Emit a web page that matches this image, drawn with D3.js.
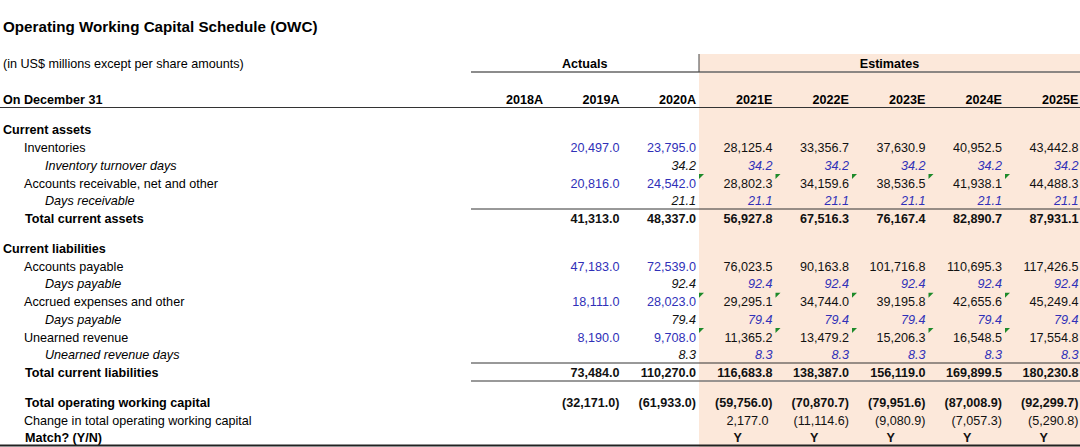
<!DOCTYPE html>
<html>
<head>
<meta charset="utf-8">
<script src="https://cdn.jsdelivr.net/npm/d3@7"></script>
<style>
  body { margin: 0; background: #fff; }
  svg text { font-family: "Liberation Sans", Arial, sans-serif; font-size: 12.6px; }
</style>
</head>
<body>
<svg id="chart" width="1080" height="447"></svg>
<script>
// column headers
const years = ["2018A", "2019A", "2020A", "2021E", "2022E", "2023E", "2024E", "2025E"];
const actualYears = ["2018A", "2019A", "2020A"];
const estimateYears = ["2021E", "2022E", "2023E", "2024E", "2025E"];

// series values (null = empty cell)
const inventories = [null, 20497.0, 23795.0, 28125.4, 33356.7, 37630.9, 40952.5, 43442.8];
const inventoryDays = [null, null, 34.2, 34.2, 34.2, 34.2, 34.2, 34.2];
const receivables = [null, 20816.0, 24542.0, 28802.3, 34159.6, 38536.5, 41938.1, 44488.3];
const daysReceivable = [null, null, 21.1, 21.1, 21.1, 21.1, 21.1, 21.1];
const totalCurrentAssets = [null, 41313.0, 48337.0, 56927.8, 67516.3, 76167.4, 82890.7, 87931.1];
const payables = [null, 47183.0, 72539.0, 76023.5, 90163.8, 101716.8, 110695.3, 117426.5];
const daysPayable = [null, null, 92.4, 92.4, 92.4, 92.4, 92.4, 92.4];
const accrued = [null, 18111.0, 28023.0, 29295.1, 34744.0, 39195.8, 42655.6, 45249.4];
const accruedDays = [null, null, 79.4, 79.4, 79.4, 79.4, 79.4, 79.4];
const unearned = [null, 8190.0, 9708.0, 11365.2, 13479.2, 15206.3, 16548.5, 17554.8];
const unearnedDays = [null, null, 8.3, 8.3, 8.3, 8.3, 8.3, 8.3];
const totalCurrentLiabilities = [null, 73484.0, 110270.0, 116683.8, 138387.0, 156119.0, 169899.5, 180230.8];
const totalOwc = [null, -32171.0, -61933.0, -59756.0, -70870.7, -79951.6, -87008.9, -92299.7];
const changeOwc = [null, null, null, 2177.0, -11114.6, -9080.9, -7057.3, -5290.8];
const matchFlags = [null, null, null, "Y", "Y", "Y", "Y", "Y"];

// table rows built from the arrays above
const rows = [
  { label: "Current assets", kind: "section" },
  { label: "Inventories", kind: "item", values: inventories },
  { label: "Inventory turnover days", kind: "ratio", values: inventoryDays },
  { label: "Accounts receivable, net and other", kind: "item", values: receivables, flag: true },
  { label: "Days receivable", kind: "ratio", values: daysReceivable },
  { label: "Total current assets", kind: "total", values: totalCurrentAssets, lineAbove: true },
  { kind: "spacer" },
  { label: "Current liabilities", kind: "section" },
  { label: "Accounts payable", kind: "item", values: payables },
  { label: "Days payable", kind: "ratio", values: daysPayable },
  { label: "Accrued expenses and other", kind: "item", values: accrued, flag: true },
  { label: "Days payable", kind: "ratio", values: accruedDays },
  { label: "Unearned revenue", kind: "item", values: unearned, flag: true },
  { label: "Unearned revenue days", kind: "ratio", values: unearnedDays },
  { label: "Total current liabilities", kind: "total", values: totalCurrentLiabilities, lineAbove: true, lineBelow: true },
  { kind: "spacer" },
  { label: "Total operating working capital", kind: "total", values: totalOwc, paren: true },
  { label: "Change in total operating working capital", kind: "change", values: changeOwc, paren: true },
  { label: "Match? (Y/N)", kind: "match", values: matchFlags }
];

const svg = d3.select("#chart");
const width = 1080, height = 447;
const blue = "#3030b8";

const x = d3.scaleBand().domain(years).range([468, 1080]).padding(0);
const fmt = d3.format(",.1f");
const fmtNum = v => v < 0 ? "(" + fmt(-v) + ")" : fmt(v);

// y position of each row
const rowStep = 17.7, spacerStep = 12.4;
let cy = 130;
rows.forEach(r => {
  r.y = cy;
  cy += r.kind === "spacer" ? spacerStep : rowStep;
});

// estimates shading
const estX = x("2021E") + 1.5;
svg.append("rect")
  .attr("x", estX).attr("y", 54)
  .attr("width", width - estX).attr("height", height - 54)
  .attr("fill", "#fce8da");

// title
svg.append("text")
  .attr("x", 3).attr("y", 32)
  .style("font-size", "15.2px").style("font-weight", "bold")
  .text("Operating Working Capital Schedule (OWC)");

svg.append("text")
  .attr("x", 3).attr("y", 64).attr("dy", "0.35em")
  .text("(in US$ millions except per share amounts)");

// group headers
svg.append("text")
  .attr("x", (x(actualYears[0]) + x("2021E") + 4) / 2).attr("y", 64).attr("dy", "0.35em")
  .attr("text-anchor", "middle").style("font-weight", "bold")
  .text("Actuals");
svg.append("text")
  .attr("x", (estX + width) / 2).attr("y", 64).attr("dy", "0.35em")
  .attr("text-anchor", "middle").style("font-weight", "bold")
  .text("Estimates");

svg.append("line")
  .attr("x1", 471).attr("x2", width).attr("y1", 72).attr("y2", 72)
  .attr("stroke", "#666").attr("stroke-width", 1.5);
svg.append("line")
  .attr("x1", estX).attr("x2", estX).attr("y1", 54).attr("y2", 72)
  .attr("stroke", "#444").attr("stroke-width", 1);

// year header row
svg.append("text")
  .attr("x", 3).attr("y", 100).attr("dy", "0.35em")
  .style("font-weight", "bold")
  .text("On December 31");
svg.selectAll(".year")
  .data(years)
  .join("text")
  .attr("class", "year")
  .attr("x", d => x(d) + x.bandwidth() - 1.5)
  .attr("y", 100).attr("dy", "0.35em")
  .attr("text-anchor", "end").style("font-weight", "bold")
  .text(d => d);
svg.append("line")
  .attr("x1", 0).attr("x2", width).attr("y1", 107.5).attr("y2", 107.5)
  .attr("stroke", "#333").attr("stroke-width", 1);

// row labels
const indent = { section: 3, item: 24, ratio: 45, total: 25, change: 24, match: 25 };
const labelRows = rows.filter(r => r.kind !== "spacer");
svg.selectAll(".label")
  .data(labelRows)
  .join("text")
  .attr("class", "label")
  .attr("x", d => indent[d.kind])
  .attr("y", d => d.y).attr("dy", "0.35em")
  .style("font-weight", d => ["section", "total", "match"].includes(d.kind) ? "bold" : "normal")
  .style("font-style", d => d.kind === "ratio" ? "italic" : "normal")
  .text(d => d.label);

// cell values
const cells = [];
labelRows.filter(r => r.values).forEach(r => {
  r.values.forEach((v, i) => {
    if (v !== null) cells.push({ row: r, year: years[i], i, v });
  });
});

function cellColor(c) {
  const est = c.i >= 3;
  if (c.row.kind === "item") return est ? "#111" : blue;
  if (c.row.kind === "ratio") return est ? blue : "#111";
  return "#111";
}

svg.selectAll(".cell")
  .data(cells)
  .join("text")
  .attr("class", "cell")
  .attr("x", c => {
    if (c.row.kind === "match") return x(c.year) + x.bandwidth() / 2 + 2;
    const right = x(c.year) + x.bandwidth() - 1.5;
    return c.row.paren && c.v >= 0 ? right - 4 : right;
  })
  .attr("y", c => c.row.y).attr("dy", "0.35em")
  .attr("text-anchor", c => c.row.kind === "match" ? "middle" : "end")
  .attr("fill", cellColor)
  .style("font-weight", c => ["total", "match"].includes(c.row.kind) ? "bold" : "normal")
  .style("font-style", c => c.row.kind === "ratio" ? "italic" : "normal")
  .text(c => typeof c.v === "number" ? fmtNum(c.v) : c.v);

// green error-indicator triangles on the cell after each flagged value
const flags = [];
labelRows.filter(r => r.flag).forEach(r => {
  years.slice(3).forEach(yr => flags.push({ row: r, year: yr }));
});
svg.selectAll(".flag")
  .data(flags)
  .join("path")
  .attr("class", "flag")
  .attr("d", f => {
    const x0 = x(f.year) + 1.5, y0 = f.row.y - 9;
    return `M${x0},${y0}L${x0 + 5},${y0}L${x0},${y0 + 5}Z`;
  })
  .attr("fill", "#1d8a2a");

// rule lines
labelRows.forEach(r => {
  if (r.lineAbove) {
    svg.append("line")
      .attr("x1", 471).attr("x2", width)
      .attr("y1", r.y - 9.5).attr("y2", r.y - 9.5)
      .attr("stroke", "#333").attr("stroke-width", 1);
  }
  if (r.lineBelow) {
    svg.append("line")
      .attr("x1", 471).attr("x2", width)
      .attr("y1", r.y + 8.5).attr("y2", r.y + 8.5)
      .attr("stroke", "#777").attr("stroke-width", 1.5);
  }
});

const last = labelRows[labelRows.length - 1];
svg.append("line")
  .attr("x1", 0).attr("x2", width)
  .attr("y1", last.y + 7.5).attr("y2", last.y + 7.5)
  .attr("stroke", "#222").attr("stroke-width", 2);
</script>
</body>
</html>
